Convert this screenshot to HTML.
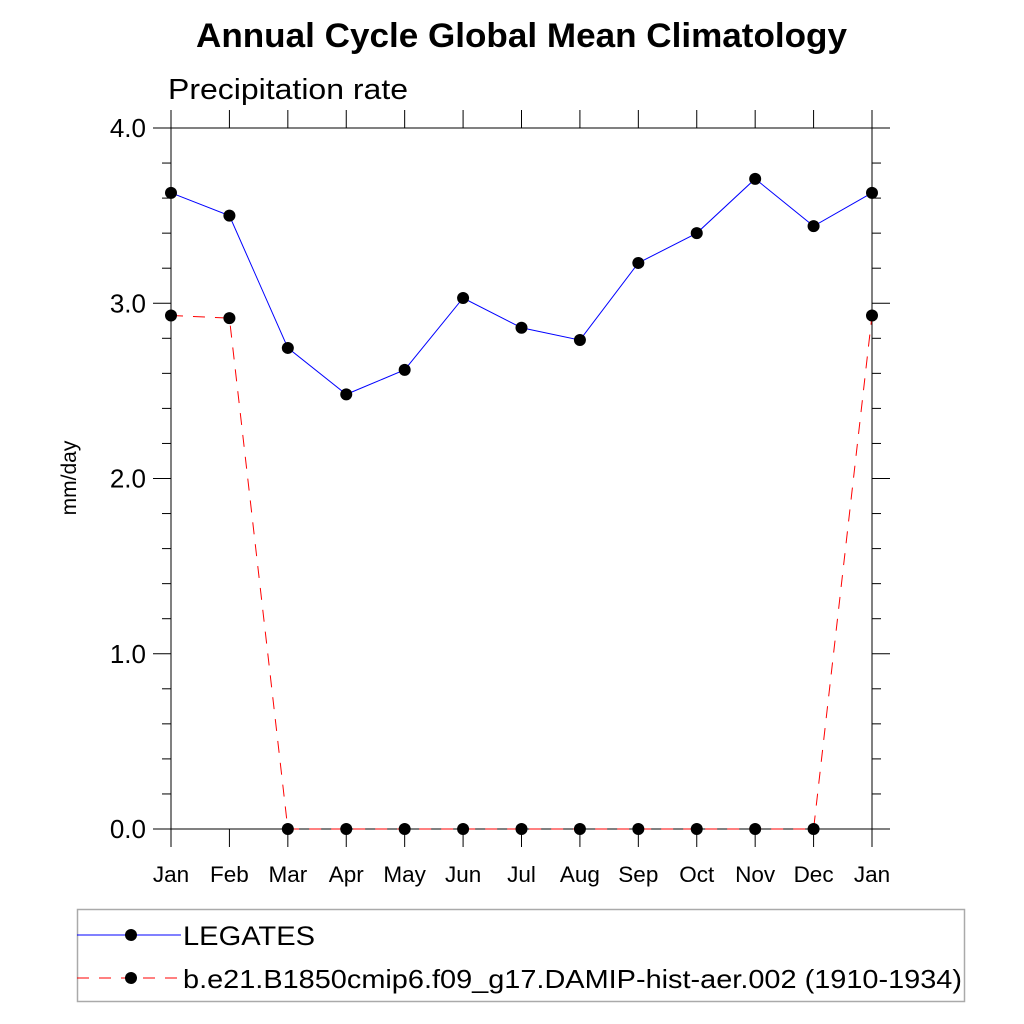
<!DOCTYPE html>
<html><head><meta charset="utf-8"><style>body{margin:0;background:#fff}svg{display:block}text{font-family:"Liberation Sans",sans-serif}</style></head>
<body>
<svg id="chart" width="1024" height="1024" viewBox="0 0 1024 1024">
<text x="196" y="47" font-size="34" font-weight="bold" textLength="651" lengthAdjust="spacingAndGlyphs">Annual Cycle Global Mean Climatology</text>
<text x="168" y="99" font-size="29" textLength="240" lengthAdjust="spacingAndGlyphs">Precipitation rate</text>
<text transform="translate(76,478) rotate(-90)" text-anchor="middle" font-size="21">mm/day</text>
<g id="axes"></g>
<g id="series"></g>
<g>
<rect x="77.5" y="909.5" width="887" height="92" fill="none" stroke="#aaa" stroke-width="1.5"/>
<line x1="77" y1="935" x2="181" y2="935" stroke="#0000ff" stroke-width="1"/>
<circle cx="131" cy="935" r="6" fill="#000"/>
<text x="183" y="945" font-size="27" textLength="132" lengthAdjust="spacingAndGlyphs">LEGATES</text>
<line x1="77" y1="978" x2="181" y2="978" stroke="#ff0000" stroke-width="1" stroke-dasharray="12,10"/>
<circle cx="131" cy="978" r="6" fill="#000"/>
<text x="183" y="988" font-size="26" textLength="779" lengthAdjust="spacingAndGlyphs">b.e21.B1850cmip6.f09_g17.DAMIP-hist-aer.002 (1910-1934)</text>
</g>
</svg>
<script>
const months = ["Jan","Feb","Mar","Apr","May","Jun","Jul","Aug","Sep","Oct","Nov","Dec","Jan"];
const legatesValues = [3.63,3.50,2.745,2.48,2.62,3.03,2.86,2.79,3.23,3.40,3.71,3.44,3.63];
const modelValues = [2.93,2.915,0,0,0,0,0,0,0,0,0,0,2.93];
const yTicks = [0,1,2,3,4];
const yTickLabels = ["0.0","1.0","2.0","3.0","4.0"];
const NS="http://www.w3.org/2000/svg";
const X0=171,X1=872,Y0=829,Y1=128;
const xs=i=>X0+(X1-X0)*i/(months.length-1);
const ys=v=>Y0-(Y0-Y1)*v/4;
function mk(tag,attrs,parent){const e=document.createElementNS(NS,tag);for(const k in attrs)e.setAttribute(k,attrs[k]);parent.appendChild(e);return e;}
const ax=document.getElementById('axes');
const frame=mk('rect',{x:X0,y:Y1,width:X1-X0,height:Y0-Y1,fill:'none',stroke:'#000','stroke-width':1},ax);


months.forEach((m,i)=>{
  const x=xs(i);
  mk('line',{x1:x,y1:Y0,x2:x,y2:Y0+18,stroke:'#000'},ax);
  mk('line',{x1:x,y1:Y1,x2:x,y2:Y1-18,stroke:'#000'},ax);
  const t=mk('text',{x:x,y:Y0+53,'text-anchor':'middle','font-size':22.5},ax);
  t.textContent=m;
  
  
});
for(let k=0;k<=20;k++){
  const v=k*0.2,y=ys(v),major=k%5===0,len=major?18:9;
  mk('line',{x1:X0,y1:y,x2:X0-len,y2:y,stroke:'#000'},ax);
  mk('line',{x1:X1,y1:y,x2:X1+len,y2:y,stroke:'#000'},ax);
}
yTicks.forEach((v,i)=>{
  const t=mk('text',{x:146,y:ys(v)+9,'text-anchor':'end','font-size':26},ax);
  t.textContent=yTickLabels[i];
  
  
});
const sg=document.getElementById('series');
function series(vals,color,dash,name){
  const p=mk('polyline',{points:vals.map((v,i)=>xs(i)+','+ys(v)).join(' '),fill:'none',stroke:color,'stroke-width':1,'stroke-dasharray':dash},sg);
  
  
  vals.forEach((v,i)=>{
    const c=mk('circle',{cx:xs(i),cy:ys(v),r:6,fill:'#000'},sg);
    
    
  });
}
series(legatesValues,'#0000ff','none','legates');
series(modelValues,'#ff0000','12,10','model');
</script>
</body></html>
